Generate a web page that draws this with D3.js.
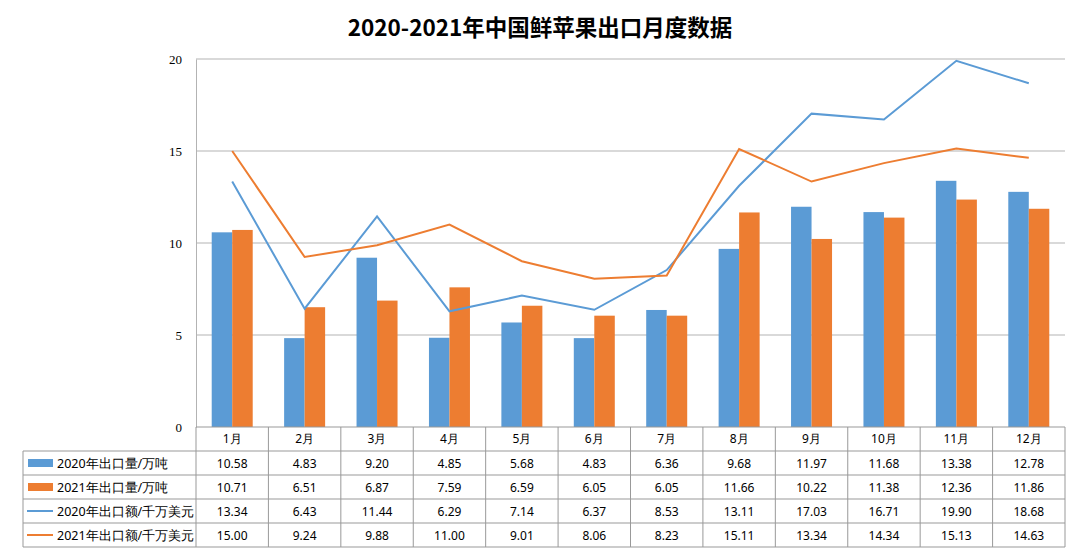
<!DOCTYPE html>
<html>
<head>
<meta charset="utf-8">
<script src="https://cdn.jsdelivr.net/npm/d3@7"></script>
<style>
  body { margin: 0; background: #fff; }
  svg { display: block; }
</style>
</head>
<body>
<svg width="1080" height="556"></svg>
<script>
const months = ["1月","2月","3月","4月","5月","6月","7月","8月","9月","10月","11月","12月"];
const vol2020 = [10.58, 4.83, 9.20, 4.85, 5.68, 4.83, 6.36, 9.68, 11.97, 11.68, 13.38, 12.78];
const vol2021 = [10.71, 6.51, 6.87, 7.59, 6.59, 6.05, 6.05, 11.66, 10.22, 11.38, 12.36, 11.86];
const amt2020 = [13.34, 6.43, 11.44, 6.29, 7.14, 6.37, 8.53, 13.11, 17.03, 16.71, 19.90, 18.68];
const amt2021 = [15.00, 9.24, 9.88, 11.00, 9.01, 8.06, 8.23, 15.11, 13.34, 14.34, 15.13, 14.63];
const yTicks = [0, 5, 10, 15, 20];

const blue = "#5b9bd5", orange = "#ed7d31", gridColor = "#b3b3b3", tableColor = "#999999";

const svg = d3.select("svg");
const plotLeft = 196, plotRight = 1065, plotTop = 59, plotBottom = 427;
const rowH = 24, legendLeft = 23;

const x = d3.scaleBand().domain(months).range([plotLeft, plotRight]);
const y = d3.scaleLinear().domain([0, 20]).range([plotBottom, plotTop]);

// title
svg.append("text")
  .attr("x", 540).attr("y", 36)
  .attr("text-anchor", "middle")
  .style("font-family", "'Noto Sans CJK SC', sans-serif")
  .style("font-weight", "bold")
  .style("font-size", "22.5px")
  .text("2020-2021年中国鲜苹果出口月度数据");

// gridlines
svg.append("g").selectAll("line")
  .data(yTicks.filter(d => d > 0))
  .enter().append("line")
  .attr("x1", plotLeft).attr("x2", plotRight)
  .attr("y1", d => y(d)).attr("y2", d => y(d))
  .attr("stroke", gridColor).attr("stroke-width", 1);

// y axis
const yAxis = svg.append("g")
  .attr("transform", `translate(${plotLeft},0)`)
  .call(d3.axisLeft(y).tickValues(yTicks).tickSize(0).tickPadding(14));
yAxis.select(".domain").attr("stroke", gridColor);
yAxis.selectAll("text")
  .style("font-family", "'Liberation Serif', serif")
  .style("font-size", "13px")
  .attr("fill", "#000");

// bars
const bw = 20.5;
const bars = svg.append("g");
bars.selectAll(".b20").data(vol2020).enter().append("rect")
  .attr("x", (d, i) => x(months[i]) + x.bandwidth() / 2 - bw)
  .attr("y", d => y(d))
  .attr("width", bw)
  .attr("height", d => y(0) - y(d))
  .attr("fill", blue);
bars.selectAll(".b21").data(vol2021).enter().append("rect")
  .attr("x", (d, i) => x(months[i]) + x.bandwidth() / 2)
  .attr("y", d => y(d))
  .attr("width", bw)
  .attr("height", d => y(0) - y(d))
  .attr("fill", orange);

// lines
const line = d3.line()
  .x((d, i) => x(months[i]) + x.bandwidth() / 2)
  .y(d => y(d));
svg.append("path").datum(amt2020).attr("d", line)
  .attr("fill", "none").attr("stroke", blue).attr("stroke-width", 2);
svg.append("path").datum(amt2021).attr("d", line)
  .attr("fill", "none").attr("stroke", orange).attr("stroke-width", 2);

// data table
const rows = [
  {name: "2020年出口量/万吨", values: vol2020, color: blue, type: "bar"},
  {name: "2021年出口量/万吨", values: vol2021, color: orange, type: "bar"},
  {name: "2020年出口额/千万美元", values: amt2020, color: blue, type: "line"},
  {name: "2021年出口额/千万美元", values: amt2021, color: orange, type: "line"}
];
const tbl = svg.append("g")
  .style("font-family", "'Noto Sans', sans-serif")
  .style("font-size", "12px");
const tableBottom = plotBottom + rowH * (rows.length + 1);

// horizontal lines
tbl.append("line").attr("x1", plotLeft).attr("x2", plotRight).attr("y1", plotBottom).attr("y2", plotBottom)
  .attr("stroke", tableColor);
d3.range(1, rows.length + 2).forEach(k => {
  tbl.append("line").attr("x1", legendLeft).attr("x2", plotRight)
    .attr("y1", plotBottom + k * rowH).attr("y2", plotBottom + k * rowH)
    .attr("stroke", tableColor);
});
// vertical lines
tbl.append("line").attr("x1", legendLeft).attr("x2", legendLeft)
  .attr("y1", plotBottom + rowH).attr("y2", tableBottom).attr("stroke", tableColor);
months.forEach(m => {
  tbl.append("line").attr("x1", x(m)).attr("x2", x(m))
    .attr("y1", plotBottom).attr("y2", tableBottom).attr("stroke", tableColor);
});
tbl.append("line").attr("x1", plotRight).attr("x2", plotRight)
  .attr("y1", plotBottom).attr("y2", tableBottom).attr("stroke", tableColor);

// header
tbl.selectAll(".hdr").data(months).enter().append("text")
  .attr("x", d => x(d) + x.bandwidth() / 2)
  .attr("y", plotBottom + rowH / 2 + 4)
  .attr("text-anchor", "middle")
  .text(d => d);

rows.forEach((r, k) => {
  const cy = plotBottom + (k + 1) * rowH + rowH / 2;
  if (r.type === "bar") {
    tbl.append("rect").attr("x", 28).attr("y", cy - 4).attr("width", 25).attr("height", 8).attr("fill", r.color);
  } else {
    tbl.append("line").attr("x1", 27).attr("x2", 53).attr("y1", cy).attr("y2", cy)
      .attr("stroke", r.color).attr("stroke-width", 2);
  }
  tbl.append("text").attr("x", 57).attr("y", cy + 4.5)
    .style("font-size", "12.5px").text(r.name);
  tbl.selectAll(null).data(r.values).enter().append("text")
    .attr("x", (d, i) => x(months[i]) + x.bandwidth() / 2)
    .attr("y", cy + 4.5)
    .attr("text-anchor", "middle")
    .text(d => d.toFixed(2));
});
</script>
</body>
</html>
